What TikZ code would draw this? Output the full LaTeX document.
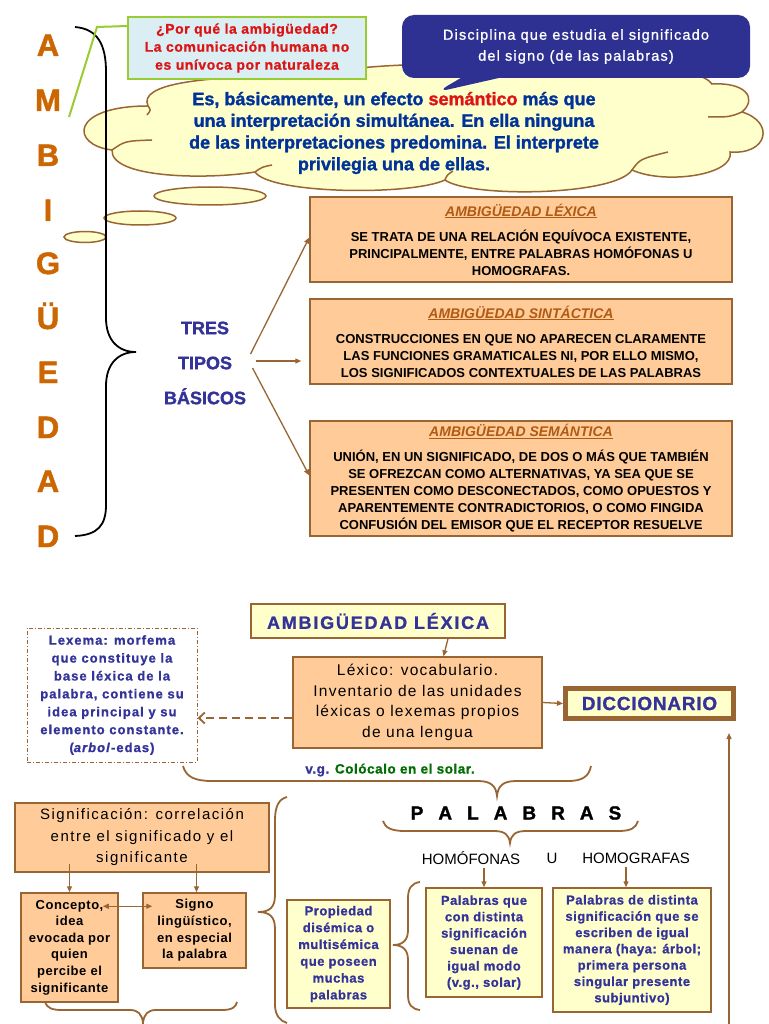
\documentclass[tikz,border=0pt]{standalone}
\usepackage{fontspec}
\setmainfont{Liberation Sans}
\newfontfamily\lsA[LetterSpace=4]{Liberation Sans}
\newfontfamily\lsB[LetterSpace=8]{Liberation Sans}
\newfontfamily\lsC[LetterSpace=10]{Liberation Sans}
\newfontfamily\hv[FakeBold=1.5]{Liberation Sans}
\newfontfamily\hvA[LetterSpace=4,FakeBold=1]{Liberation Sans}
\newfontfamily\hvB[LetterSpace=8,FakeBold=1]{Liberation Sans}
\newfontfamily\hvC[LetterSpace=10,FakeBold=1]{Liberation Sans}
\usetikzlibrary{shapes.callouts,arrows.meta,calc}
\definecolor{brownc}{RGB}{153,102,51}
\definecolor{peachc}{RGB}{255,204,153}
\definecolor{yellowc}{RGB}{255,255,204}
\definecolor{navyc}{RGB}{51,51,153}
\definecolor{cloudblue}{RGB}{0,51,153}
\definecolor{orangeL}{RGB}{204,102,0}
\definecolor{titleor}{RGB}{176,90,20}
\definecolor{redc}{RGB}{220,20,20}
\definecolor{greenc}{RGB}{0,110,0}
\definecolor{limec}{RGB}{153,204,51}
\definecolor{lightbluec}{RGB}{218,238,243}
\definecolor{calloutc}{RGB}{46,49,146}
\newcommand\fsz[2]{\fontsize{#1}{#2}\selectfont}
\newcommand\boxtitle[1]{{\fsz{14}{17}\color{titleor}\itshape\underline{#1}}}
\begin{document}
\begin{tikzpicture}[x=1pt,y=-1pt,
  peach/.style={draw=brownc,line width=1.5pt,fill=peachc,inner sep=0pt,align=center},
  ybox/.style={draw=brownc,line width=1.5pt,fill=yellowc,inner sep=0pt,align=center},
  arr/.style={draw=brownc,line width=1.3pt,-{Triangle[length=6pt,width=5pt]}},
  bbrace/.style={draw=brownc,line width=1.8pt},
  bubble/.style={draw=brownc,line width=1.5pt,fill=yellowc},
  crease/.style={draw=brownc,line width=1.5pt},
  letterst/.style={text=orangeL,font=\hv\bfseries\fsz{31}{31},text height=22pt,text depth=0pt,inner sep=0pt},
  bodyst/.style={font=\bfseries\fsz{13}{17}},
]
\useasboundingbox (0,0) rectangle (768,1024);
\fill[white] (0,0) rectangle (768,1024);

% ---- cloud and bubbles
\draw[bubble] (148,106)
  .. controls (138,84) and (200,76) .. (300,76)
  .. controls (380,62) and (470,60) .. (545,74)
  .. controls (610,62) and (700,66) .. (712,84)
  .. controls (745,82) and (758,98) .. (742,112)
  .. controls (775,122) and (768,155) .. (730,152)
  .. controls (735,175) and (665,185) .. (632,170)
  .. controls (615,196) and (470,198) .. (445,180)
  .. controls (410,196) and (270,194) .. (255,172)
  .. controls (205,180) and (110,178) .. (112,150)
  .. controls (70,145) and (70,106) .. (148,106) -- cycle;
\draw[crease] (112,150) .. controls (125,141) .. (152,140);
\draw[crease] (148,106) .. controls (151,110) .. (147,115);
\draw[crease] (742,112) .. controls (730,117) .. (708,117);
\draw[crease] (632,170) .. controls (640,159) .. (668,152);
\draw[crease] (445,180) .. controls (447,175) .. (453,171);
\draw[crease] (255,172) .. controls (262,167) .. (272,165);
\draw[bubble] (210,196) ellipse [x radius=56,y radius=9];
\draw[bubble] (140,218) ellipse [x radius=36,y radius=7];
\draw[bubble] (85,237) ellipse [x radius=21,y radius=5.5];
\node[align=center,text=cloudblue,font=\hv\bfseries\fsz{18}{21.7}] (cltext) at (394,133)
 {Es, básicamente, un efecto \textcolor{redc}{semántico} más que\\
  una interpretación simultánea. En ella ninguna\\
  de las interpretaciones predomina. El interprete\\
  privilegia una de ellas.};

% ---- green box
\node[draw=limec,line width=2pt,fill=lightbluec,minimum width=238pt,minimum height=62pt,inner sep=0pt,
      align=center,text=redc,font=\hvA\bfseries\fsz{14}{18}] (gb) at (247,48)
 {¿Por qué la ambigüedad?\\ La comunicación humana no\\ es unívoca por naturaleza};

% ---- callout
\node[rectangle callout,fill=calloutc,rounded corners=12pt,minimum width=348pt,minimum height=63pt,
      callout absolute pointer={(437,92)},callout pointer width=38pt,
      align=center,text=white,font=\hvB\fsz{14.5}{21}] (co) at (576,46.5)
 {Disciplina que estudia el significado\\ del signo (de las palabras)};

% ---- black brace and green line
\draw[line width=1.8pt] (75,27) .. controls (98,29) and (106,45) .. (106,72) -- (106,318)
  .. controls (106,340) and (118,352) .. (136,352) .. controls (118,352) and (106,364) .. (106,386)
  -- (106,505) .. controls (106,525) and (98,535) .. (75,536);
\draw[limec,line width=2pt] ($(gb.north west)+(0,10)$) -- (97,27) -- (69,117);

% ---- vertical letters
\foreach \l/\yy [count=\i] in {A/45,M/100,B/155,I/210,G/263,Ü/318,E/372,D/427,A/481,D/536}
  \node[letterst] (L\i) at (48,\yy) {\l};

% ---- three types
\node[align=center,text=navyc,font=\hv\bfseries\fsz{18}{35}] (tres) at (205,363) {TRES\\ TIPOS\\ BÁSICOS};

\node[peach,minimum width=422pt,minimum height=85pt,bodyst] (lex) at (521,239.5)
 {\boxtitle{AMBIGÜEDAD LÉXICA}\\[8pt]
  SE TRATA DE UNA RELACIÓN EQUÍVOCA EXISTENTE,\\
  PRINCIPALMENTE, ENTRE PALABRAS HOMÓFONAS U\\
  HOMOGRAFAS.};
\node[peach,minimum width=422pt,minimum height=85pt,bodyst] (sin) at (521,341.5)
 {\boxtitle{AMBIGÜEDAD SINTÁCTICA}\\[8pt]
  CONSTRUCCIONES EN QUE NO APARECEN CLARAMENTE\\
  LAS FUNCIONES GRAMATICALES NI, POR ELLO MISMO,\\
  LOS SIGNIFICADOS CONTEXTUALES DE LAS PALABRAS};
\node[peach,minimum width=422pt,minimum height=115pt,bodyst] (sem) at (521,478.5)
 {\boxtitle{AMBIGÜEDAD SEMÁNTICA}\\[8pt]
  UNIÓN, EN UN SIGNIFICADO, DE DOS O MÁS QUE TAMBIÉN\\
  SE OFREZCAN COMO ALTERNATIVAS, YA SEA QUE SE\\
  PRESENTEN COMO DESCONECTADOS, COMO OPUESTOS Y\\
  APARENTEMENTE CONTRADICTORIOS, O COMO FINGIDA\\
  CONFUSIÓN DEL EMISOR QUE EL RECEPTOR RESUELVE};

\draw[arr] ($(tres.east)+(1,-9)$) -- ($(lex.west)+(0,-2)$);
\draw[arr] ($(tres.east)+(6,-2)$) -- ($(sin.west)+(-8,19.5)$);
\draw[arr] ($(tres.east)+(3,5)$) -- ($(sem.west)+(0,-3)$);

% ---- bottom part
\node[ybox,minimum width=254pt,minimum height=34pt,text=navyc,font=\hvC\bfseries\fsz{18}{20}] (axlex) at (378,621)
 {AMBIGÜEDAD LÉXICA};
\node[peach,minimum width=249pt,minimum height=91pt,font=\lsB\fsz{15.5}{20.7}] (lexico) at (417.5,702.5)
 {Léxico: vocabulario.\\ Inventario de las unidades\\ léxicas o lexemas propios\\ de una lengua};
\node[draw=brownc,line width=5pt,fill=yellowc,minimum width=168pt,minimum height=30pt,inner sep=0pt,
      text=navyc,font=\hvA\bfseries\fsz{19}{20}] (dicc) at (649.5,703.5) {DICCIONARIO};
\node[draw=brownc,line width=1pt,dash pattern=on 4pt off 2pt on 1pt off 2pt,fill=white,
      minimum width=170pt,minimum height=134pt,inner sep=0pt,align=center,text=navyc,
      font=\hvB\bfseries\fsz{13}{17.9}] (lexema) at (112,695)
 {Lexema: morfema\\ que constituye la\\ base léxica de la\\ palabra, contiene su\\ idea principal y su\\ elemento constante.\\ (\textit{arbol}-edas)};

\draw[arr] ($(axlex.south)+(70,0)$) -- ($(lexico.north)+(26,0)$);
\draw[arr] (lexico.east) -- (dicc.west);
\coordinate (dA) at ($(lexico.west)+(0,15.5)$);
\draw[draw=brownc,line width=1.8pt,dash pattern=on 8pt off 5pt,-{Straight Barb[length=6pt,width=11pt]}]
  (dA) -- (dA -| lexema.east);

\node[font=\hvA\bfseries\fsz{13.5}{16}] (vg) at (390,770)
 {\textcolor{navyc}{v.g.} \textcolor{greenc}{Colócalo en el solar.}};
\draw[bbrace] (183,766) .. controls (186,777) and (195,781) .. (212,781) -- (478,781)
  .. controls (491,781) and (496,786) .. (497,796) .. controls (498,786) and (503,781) .. (516,781)
  -- (568,781) .. controls (583,781) and (589,776) .. (591,766);

\node[font=\hv\bfseries\fsz{19}{20}] (pal) at (516,813)
 {P\hspace{15pt}A\hspace{15pt}L\hspace{15pt}A\hspace{15pt}B\hspace{15pt}R\hspace{15pt}A\hspace{15pt}S};
\draw[bbrace] (383,821) .. controls (385,828) and (392,831) .. (405,831) -- (494,831)
  .. controls (505,831) and (509,835) .. (510,843) .. controls (511,835) and (515,831) .. (526,831)
  -- (618,831) .. controls (631,831) and (636,828) .. (638,821);

\node[font=\fsz{15}{16}] (homo) at (471,858) {HOMÓFONAS};
\node[font=\fsz{15}{16}] (uu) at (552,858) {U};
\node[font=\fsz{15}{16}] (homg) at (636,858) {HOMOGRAFAS};

\node[ybox,minimum width=116pt,minimum height=109pt,text=navyc,font=\hvA\bfseries\fsz{13}{16.4}] (hf) at (484,942.5)
 {Palabras que\\ con distinta\\ significación\\ suenan de\\ igual modo\\ (v.g., solar)};
\node[ybox,minimum width=158pt,minimum height=124pt,text=navyc,font=\hvA\bfseries\fsz{13}{16.3}] (hg) at (632,950)
 {Palabras de distinta\\ significación que se\\ escriben de igual\\ manera (haya: árbol;\\ primera persona\\ singular presente\\ subjuntivo)};
\node[ybox,minimum width=103pt,minimum height=108pt,text=navyc,font=\hvA\bfseries\fsz{13}{16.8}] (prop) at (338.5,954)
 {Propiedad\\ disémica o\\ multisémica\\ que poseen\\ muchas\\ palabras};

\draw[arr] (homo.south -| hf.north) -- (hf.north);
\draw[arr] ($(homg.south)+(-10,0)$) -- ($(hg.north)+(-6,0)$);

\draw[bbrace] (420,882) .. controls (412,883) and (408,888) .. (408,898) -- (408,930)
  .. controls (408,940) and (403,945) .. (393,945) .. controls (403,945) and (408,950) .. (408,960)
  -- (408,995) .. controls (408,1005) and (412,1009) .. (420,1010);
\draw[bbrace] (287,797) .. controls (279,799) and (275,806) .. (275,820) -- (275,895)
  .. controls (275,907) and (270,912) .. (258,912) .. controls (270,912) and (275,917) .. (275,929)
  -- (275,1005) .. controls (275,1015) and (280,1021) .. (287,1023);

\node[peach,minimum width=254pt,minimum height=69pt,font=\lsC\fsz{15}{21.5}] (signif) at (142,837.5)
 {Significación: correlación\\ entre el significado y el\\ significante};
\node[peach,minimum width=97pt,minimum height=109pt,font=\lsA\bfseries\fsz{13}{16.6}] (concepto) at (69.5,947.5)
 {Concepto,\\ idea\\ evocada por\\ quien\\ percibe el\\ significante};
\node[peach,minimum width=103pt,minimum height=75pt,font=\lsA\bfseries\fsz{13}{16.7}] (signo) at (194.5,930.5)
 {Signo\\ lingüístico,\\ en especial\\ la palabra};

\draw[arr] ($(signif.south -| concepto.north)+(0,-9)$) -- (concepto.north);
\draw[arr] ($(signif.south -| signo.north)+(2,-9)$) -- ($(signo.north)+(2,0)$);
\draw[draw=brownc,line width=1.3pt,{Triangle[length=6pt,width=5pt]}-{Triangle[length=6pt,width=5pt]}]
  ($(concepto.north east)+(-16,14)$) -- ($(signo.north west)+(10,14)$);

\draw[bbrace] (45,1002) .. controls (47,1008) and (52,1010) .. (62,1010) -- (130,1010)
  .. controls (138,1010) and (142,1014) .. (143,1023) .. controls (144,1014) and (148,1010) .. (156,1010)
  -- (222,1010) .. controls (232,1010) and (236,1007) .. (237,1002);

\coordinate (upA) at (729,1026);
\coordinate (upB) at (729,733);
\draw[arr] (upA) -- (upB);
\end{tikzpicture}
\end{document}
